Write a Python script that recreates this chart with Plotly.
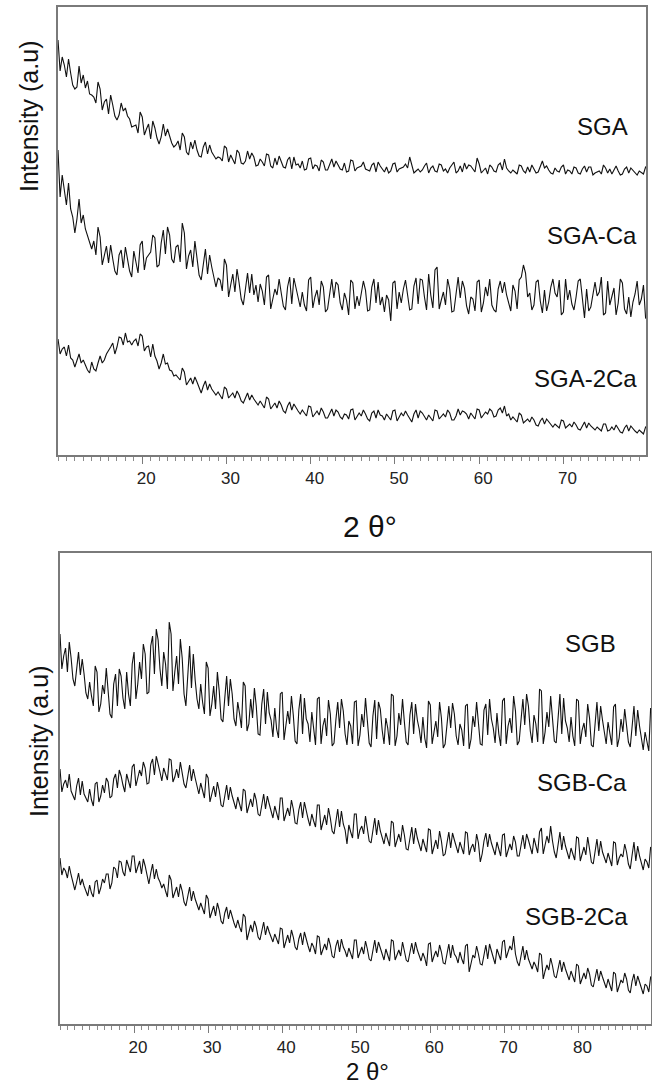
import numpy as np
import plotly.graph_objects as go

# 2-theta scan step (deg) and start
STEP = 0.25
START = 10.0

# ---- Top panel: intensities (a.u.), every 0.25 deg from 10 to 80
sga = [415,384,398,390,378,396,382,370,366,368,389,372,380,367,374,361,360,358,352,373,366,345,353,356,341,360,350,339,335,340,352,344,347,339,336,328,329,330,322,343,
       338,320,326,331,316,334,327,317,311,318,331,319,326,319,312,308,310,314,305,322,318,303,300,313,306,315,305,299,298,308,313,301,310,303,299,296,298,297,294,309,
       307,293,300,296,291,305,302,292,291,294,304,296,302,298,289,290,296,293,289,301,300,289,287,297,290,299,294,288,287,295,298,286,298,290,291,287,294,285,286,296,
       297,286,290,289,284,295,293,285,285,291,296,288,294,290,286,285,292,283,284,295,294,284,287,288,289,293,286,285,284,290,292,283,293,289,286,283,288,282,284,291,
       292,283,286,287,288,291,287,298,290,282,284,286,283,285,289,292,282,287,289,284,283,291,290,284,286,282,287,290,293,282,284,289,283,292,286,290,289,286,283,297,
       291,282,285,287,281,290,288,284,283,290,292,285,296,287,284,282,285,283,281,290,289,284,282,288,283,290,286,282,283,289,294,287,289,285,282,281,287,284,283,288,
       290,281,285,284,281,288,287,282,281,286,289,283,288,288,280,282,283,284,281,290,287,282,286,281,285,289,284,280,281,286,288,282,287,285,283,280,284,282,281,288,286]

sga_ca = [305,258,280,262,250,272,246,238,222,236,256,232,240,226,219,212,206,214,200,228,218,190,199,209,192,210,196,184,180,200,205,187,208,195,184,178,204,193,182,210,
          214,185,197,200,203,220,217,188,190,212,225,201,228,220,196,192,208,210,193,232,222,186,199,205,188,214,197,180,175,193,206,181,200,188,176,168,177,175,164,196,
          190,158,170,181,163,186,172,156,150,168,182,162,181,160,170,153,171,164,150,178,180,146,155,166,160,176,162,149,145,168,178,151,177,166,157,148,163,150,144,175,
          178,147,158,165,150,174,168,143,146,161,176,157,173,170,152,145,162,155,140,175,172,146,159,149,163,174,165,144,145,168,176,152,173,150,158,143,160,155,134,172,
          174,146,163,152,166,175,160,145,146,169,177,151,176,175,158,145,181,160,147,185,188,146,155,163,150,176,166,143,144,161,178,157,174,167,149,141,158,156,144,173,
          175,143,152,168,159,176,150,145,143,166,174,162,173,160,151,144,170,164,146,175,178,190,182,158,162,145,150,173,175,154,142,165,144,153,168,176,162,158,175,140,
          143,176,155,165,151,145,158,174,176,157,137,166,144,148,160,173,159,163,178,140,142,174,150,160,167,140,152,176,172,146,141,158,138,153,161,174,150,156,170,137,138]

sga_2ca = [116,101,106,108,99,110,97,95,88,94,101,92,95,90,85,82,93,86,84,92,99,92,95,101,104,108,112,101,108,118,117,110,122,113,114,110,114,116,109,121,
           119,104,108,109,98,111,99,94,86,92,101,91,92,85,84,79,80,78,75,87,83,70,74,77,71,78,73,67,62,69,74,65,71,66,63,60,63,60,56,68,
           66,57,59,62,57,64,60,54,52,57,62,55,60,56,53,50,54,51,47,58,56,46,49,52,47,54,50,44,42,49,53,45,51,47,44,41,45,42,39,49,
           48,38,41,44,40,47,43,37,37,42,46,39,45,43,38,36,41,40,36,45,46,35,38,42,39,45,41,36,34,42,44,37,45,40,39,35,41,38,35,44,
           45,34,38,42,39,44,40,36,33,41,45,37,44,42,38,35,40,37,34,45,44,36,39,41,38,45,42,35,35,39,46,40,44,43,41,36,42,39,36,46,
           45,37,40,43,41,46,44,38,39,45,47,42,49,39,41,35,38,36,33,42,40,32,34,36,33,38,35,30,29,34,37,31,36,33,30,28,31,29,27,35,
           34,27,29,31,28,33,30,26,25,29,33,27,32,29,27,25,28,26,24,31,31,24,25,28,25,30,27,23,22,27,30,24,29,26,24,22,25,23,21,28,27]

# ---- Bottom panel: intensities (a.u.) every 0.25 deg from 10 to 90
sgb = [390,355,368,376,352,382,366,345,338,355,372,349,365,350,331,325,342,328,318,358,352,312,320,339,330,356,335,310,306,340,350,318,355,348,326,315,352,330,318,360,
       372,325,340,362,345,380,370,330,332,378,388,350,395,384,355,338,372,360,335,402,390,333,352,368,340,385,366,330,318,352,378,336,370,344,325,315,340,322,310,362,
       356,308,320,338,315,352,333,305,302,326,348,318,345,330,305,298,322,310,296,342,338,293,300,325,306,336,318,290,289,320,335,300,332,311,304,287,316,295,286,330,
       332,284,298,313,300,328,309,283,280,314,330,290,326,305,300,282,312,292,279,325,327,280,298,306,288,324,310,278,281,304,322,296,325,313,290,279,303,298,280,322,
       323,278,289,310,297,326,300,281,277,308,324,285,322,315,294,280,306,296,279,330,328,278,288,311,299,325,302,282,279,309,322,290,320,304,295,281,307,286,276,323,
       319,280,292,303,287,322,306,276,280,301,318,296,321,310,288,279,300,294,278,318,320,275,285,308,297,322,303,280,279,314,320,289,325,305,296,281,311,290,278,323,
       326,280,298,306,291,328,313,279,283,308,325,299,330,318,293,281,309,300,282,335,333,280,292,312,297,328,305,283,281,310,330,290,326,303,296,282,307,288,278,325,
       323,280,294,301,287,320,306,279,277,300,322,293,318,304,289,280,302,291,279,317,320,277,286,305,292,315,299,282,277,301,318,288,314,298,285,274,292,284,273,316,308]

sgb_ca = [255,232,240,244,236,250,233,228,224,238,246,229,243,230,226,222,235,224,218,240,242,222,228,239,231,246,242,226,228,245,250,236,254,248,239,232,250,242,236,257,
          260,238,245,254,248,262,256,240,241,260,265,249,268,258,252,243,256,250,244,265,264,242,247,255,246,262,252,240,236,250,259,243,255,246,238,230,241,233,226,250,
          246,222,231,238,227,242,233,219,217,230,239,224,237,228,222,215,227,220,213,235,233,211,218,225,217,231,224,210,208,221,230,215,228,220,214,206,218,211,204,226,
          226,203,210,216,208,224,215,201,200,214,222,206,222,212,205,198,210,203,197,219,219,194,202,209,199,216,206,193,190,203,215,197,213,200,194,180,199,192,186,210,
          210,185,194,198,190,208,197,183,181,194,206,189,204,193,187,180,191,185,178,203,201,177,184,190,182,199,189,175,174,187,197,180,196,186,179,173,185,178,172,195,
          194,170,177,184,175,193,183,168,170,181,192,176,191,184,178,171,182,175,170,192,191,169,176,180,172,190,181,162,170,183,191,177,190,181,174,169,182,175,168,189,
          190,167,173,180,174,188,182,168,168,181,189,175,190,184,176,170,186,177,171,192,196,170,180,188,181,198,183,172,166,179,192,174,188,178,172,165,176,171,164,187,
          186,163,170,177,169,187,175,162,160,173,185,168,183,172,167,161,171,165,158,182,181,159,166,170,167,180,172,160,155,169,182,163,178,168,161,154,165,162,156,177,174]

sgb_2ca = [166,149,156,153,146,158,149,141,134,142,151,139,145,138,133,128,139,131,127,142,144,130,136,145,141,150,150,135,141,157,155,146,163,162,152,148,164,158,152,168,
           168,151,157,163,150,165,158,147,140,151,160,145,155,146,142,136,140,133,127,149,144,126,131,137,127,140,133,122,118,129,137,123,133,125,119,114,121,115,110,129,
           125,106,112,118,108,121,114,103,100,111,117,105,114,107,101,96,104,97,92,110,107,84,93,99,92,103,97,87,84,94,102,89,98,92,86,82,90,84,80,96,
           95,76,82,89,81,94,87,77,74,85,91,79,92,84,78,72,81,77,70,88,87,69,75,80,74,86,79,68,66,78,84,72,85,77,73,67,76,71,65,84,
           84,66,72,77,70,83,75,65,63,74,84,71,82,76,70,64,75,69,63,84,83,64,70,74,68,82,73,64,62,72,81,70,82,74,69,63,71,66,58,80,
           81,62,68,73,67,79,72,61,60,71,80,66,79,70,67,61,72,65,60,78,80,52,62,69,66,78,70,60,59,71,79,65,80,73,67,60,75,70,64,82,
           84,66,72,78,74,88,70,62,58,68,78,64,74,65,60,55,62,58,52,71,69,45,53,59,54,66,58,48,46,56,64,52,62,55,50,44,53,48,42,60,
           58,40,46,51,45,56,50,39,37,48,55,43,53,47,42,36,45,40,33,52,50,32,39,44,41,51,45,34,31,43,50,38,48,42,37,30,40,38,32,47,46]

top_series = [("SGA", sga), ("SGA-Ca", sga_ca), ("SGA-2Ca", sga_2ca)]
bot_series = [("SGB", sgb), ("SGB-Ca", sgb_ca), ("SGB-2Ca", sgb_2ca)]

top_ticks = [20, 30, 40, 50, 60, 70]
bot_ticks = [20, 30, 40, 50, 60, 70, 80]

W, H = 652, 1087
FONT = "Arial, Liberation Sans, Helvetica, sans-serif"


def px(x):
    return x / W


def py(y):
    return 1 - y / H


fig = go.Figure()

for name, vals in top_series:
    xs = START + STEP * np.arange(len(vals))
    fig.add_trace(go.Scatter(x=xs, y=vals, mode="lines", name=name,
                             line=dict(color="#111111", width=1.1),
                             xaxis="x", yaxis="y", showlegend=False))
for name, vals in bot_series:
    xs = START + STEP * np.arange(len(vals))
    fig.add_trace(go.Scatter(x=xs, y=vals, mode="lines", name=name,
                             line=dict(color="#111111", width=1.1),
                             xaxis="x2", yaxis="y2", showlegend=False))

frame = dict(showline=True, linecolor="#7a7a7a", linewidth=1.5, mirror=True,
             showgrid=False, zeroline=False)

xcommon = dict(
    ticks="outside", ticklen=7, tickwidth=1, tickcolor="#7a7a7a",
    tickmode="array",
    tickfont=dict(family=FONT, size=17, color="#222222"),
    ticklabelshift=4, ticklabelstandoff=0,
    minor=dict(ticks="outside", ticklen=4, tickcolor="#8a8a8a", tickwidth=1,
               dtick=1, tick0=0, showgrid=False),
    **frame,
)

fig.update_layout(
    width=W, height=H,
    margin=dict(l=0, r=0, t=0, b=0),
    paper_bgcolor="white", plot_bgcolor="white",
    xaxis=dict(domain=[px(58), px(646)], range=[10, 79.8], tickvals=top_ticks,
               anchor="y", **xcommon),
    yaxis=dict(domain=[py(455), py(7)], range=[0, 448], showticklabels=False,
               ticks="", anchor="x", **frame),
    xaxis2=dict(domain=[px(60), px(651)], range=[10, 89.8], tickvals=bot_ticks,
                anchor="y2", **xcommon),
    yaxis2=dict(domain=[py(1024), py(553)], range=[0, 471], showticklabels=False,
                ticks="", anchor="x2", **frame),
)

labels = [("SGA", 602, 126), ("SGA-Ca", 592, 236), ("SGA-2Ca", 585, 378),
          ("SGB", 590, 643), ("SGB-Ca", 582, 782), ("SGB-2Ca", 576, 916)]
for t, x, y in labels:
    fig.add_annotation(text=t, x=px(x), y=py(y), xref="paper", yref="paper",
                       xanchor="center", yanchor="middle", showarrow=False,
                       font=dict(family=FONT, size=24, color="#111111"))

fig.add_annotation(text="2 θ°", x=px(370), y=py(526), xref="paper", yref="paper",
                   xanchor="center", yanchor="middle", showarrow=False,
                   font=dict(family=FONT, size=30, color="#111111"))
fig.add_annotation(text="2 θ°", x=px(367), y=py(1086), xref="paper", yref="paper",
                   xanchor="center", yanchor="bottom", showarrow=False,
                   borderpad=0,
                   font=dict(family=FONT, size=24, color="#111111"))

for x, y in [(29, 117), (39, 742)]:
    fig.add_annotation(text="Intensity (a.u)", x=px(x), y=py(y), xref="paper",
                       yref="paper", xanchor="center", yanchor="middle",
                       textangle=-90, showarrow=False,
                       font=dict(family=FONT, size=25, color="#111111"))

fig.write_html("out.html")
